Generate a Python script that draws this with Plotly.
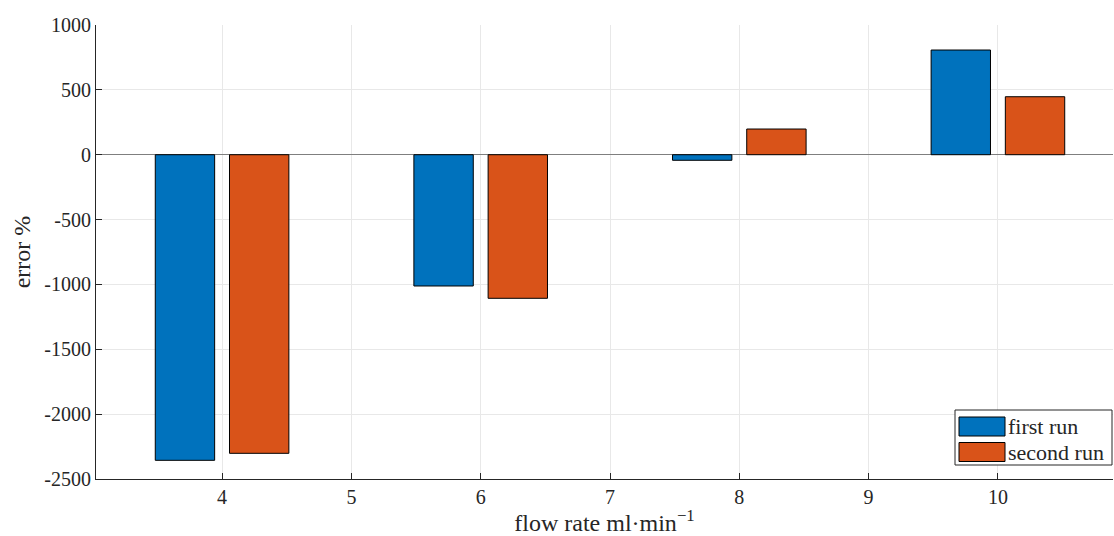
import plotly.graph_objects as go

flow_rate = [4, 6, 8, 10]
first_run = [-2356, -1012, -43, 807]
second_run = [-2302, -1107, 198, 447]
series_names = ["first run", "second run"]
series_colors = ["#0072BD", "#D95319"]
x_ticks = [4, 5, 6, 7, 8, 9, 10]
y_ticks = [1000, 500, 0, -500, -1000, -1500, -2000, -2500]

FONT = "Times New Roman, Liberation Serif, Times, serif"
TXT = "#262626"
fig = go.Figure()
for vals, name, col in zip([first_run, second_run], series_names, series_colors):
    fig.add_trace(go.Bar(x=flow_rate, y=vals, name=name, showlegend=False,
                         marker=dict(color=col, line=dict(color="black", width=1))))

# plot area in pixels: x 96..1113, y 25..479
L, R, T, B = 96, 1113, 25, 479
def px(x):
    return (x - L) / (R - L)
def py(y):
    return (B - y) / (B - T)

shapes = [dict(type="rect", xref="paper", yref="paper",
               x0=px(955), x1=px(1112), y0=py(465), y1=py(410),
               line=dict(color=TXT, width=1), fillcolor="white", layer="above")]
annotations = []
for i, (name, col) in enumerate(zip(series_names, series_colors)):
    top = 417 + i * 25.5
    shapes.append(dict(type="rect", xref="paper", yref="paper",
                       x0=px(959), x1=px(1005), y0=py(top + 19), y1=py(top),
                       line=dict(color="black", width=1), fillcolor=col, layer="above"))
    annotations.append(dict(text=name, xref="paper", yref="paper",
                            x=px(1006), y=py(top + 9.5), xanchor="left", yanchor="middle",
                            showarrow=False, font=dict(family=FONT, size=22, color=TXT)))

fig.update_layout(
    width=1114, height=536,
    margin=dict(l=L, r=1114 - R, t=T, b=536 - B),
    paper_bgcolor="white", plot_bgcolor="white",
    barmode="group", bargap=0.426, bargroupgap=0.2,
    font=dict(family=FONT, size=20, color=TXT),
    showlegend=False,
    shapes=shapes, annotations=annotations,
)
fig.update_xaxes(range=[3.025, 10.89], tickvals=x_ticks, ticktext=[str(v) for v in x_ticks],
                 automargin=False,
                 showgrid=True, gridcolor="#e8e8e8", gridwidth=1,
                 showline=True, linecolor=TXT, linewidth=1,
                 ticks="inside", ticklen=6, tickcolor=TXT, zeroline=False,
                 title=dict(text="flow rate ml·min<sup>−1</sup>", standoff=2,
                            font=dict(family=FONT, size=24, color=TXT)),
                 tickfont=dict(family=FONT, size=20, color=TXT))
fig.update_yaxes(range=[-2500, 1000], tickvals=y_ticks, ticktext=[str(v) for v in y_ticks],
                 automargin=False,
                 showgrid=True, gridcolor="#e8e8e8", gridwidth=1,
                 showline=True, linecolor=TXT, linewidth=1,
                 ticks="inside", ticklen=6, tickcolor=TXT,
                 zeroline=True, zerolinecolor="#7f7f7f", zerolinewidth=1,
                 title=dict(text="error %", standoff=6, font=dict(family=FONT, size=24, color=TXT)),
                 tickfont=dict(family=FONT, size=20, color=TXT))

fig.write_html("out.html", config={"displayModeBar": False},
               post_script="document.body.style.margin='0';document.body.style.overflow='hidden';")
